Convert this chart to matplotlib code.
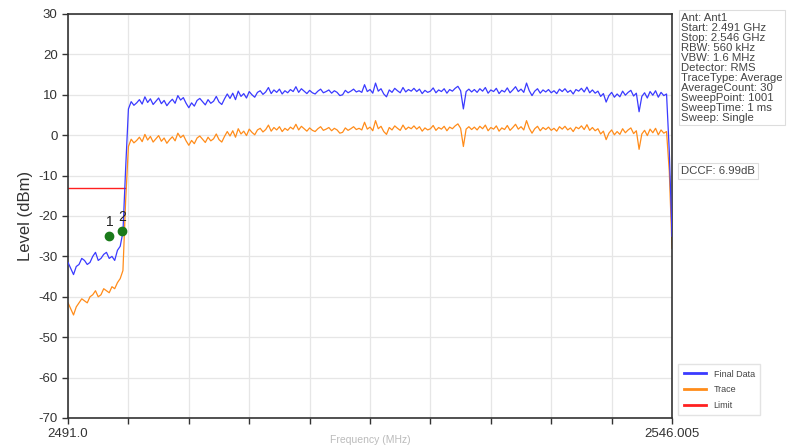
import numpy as np
import matplotlib
matplotlib.use("Agg")
import matplotlib.pyplot as plt

plt.rcParams['font.family'] = ['Liberation Sans', 'DejaVu Sans']
plt.rcParams['axes.unicode_minus'] = False

# ---------------- data ----------------
START_MHZ = 2491.0
STOP_MHZ = 2546.005

final_data = [
    -31.5, -33.0, -34.5, -32.5, -32.0, -30.5, -31.0, -32.0, -31.5, -30.0,
    -29.0, -31.0, -30.5, -29.5, -29.0, -30.5, -30.0, -31.0, -28.5, -27.5,
    -24.0, -8.0,
    6.5, 8.3, 7.4, 8.0, 8.8, 7.7, 9.5, 8.1,
    9.0, 7.6, 8.4, 9.2, 7.8, 8.6, 7.3, 8.2, 8.9, 7.9,
    9.8, 8.7, 9.3, 7.9, 6.8, 8.0, 7.2, 8.6, 9.1, 8.3,
    7.5, 8.8, 7.9, 8.4, 9.6, 8.2, 7.6, 9.0, 10.2, 9.1,
    10.4, 8.8, 10.9, 9.6, 10.3, 9.2, 10.8, 10.0, 9.4, 10.6,
    11.0, 10.1, 10.7, 11.8, 10.3, 11.2, 10.6, 11.4, 10.2, 11.0,
    10.5, 11.3, 10.8, 12.0, 10.6, 11.5, 10.9, 10.3, 11.1, 10.5,
    10.2, 10.9, 11.4, 10.5, 10.8, 11.2, 10.4, 11.0, 10.6, 9.8,
    10.0, 11.1, 10.5, 10.9, 11.4, 10.7, 11.0, 10.6, 12.5, 10.8,
    11.3, 10.4, 12.9, 10.9, 11.5, 10.2, 9.5, 11.2, 10.6, 11.6,
    11.0, 10.5, 11.8, 10.7, 11.3, 10.9, 11.6, 10.8, 11.4, 10.3,
    11.1, 10.6, 10.9, 11.7, 10.5, 11.2, 10.8, 11.5, 10.4, 11.3,
    10.9, 11.6, 12.1, 11.0, 6.5, 10.8, 11.4, 10.7, 11.3, 10.6,
    11.5, 10.9, 11.8, 10.4, 11.2, 10.8, 11.6, 10.3, 11.1, 10.7,
    11.7, 10.5, 11.2, 12.0, 10.8, 11.4, 10.6, 12.9, 11.0, 9.8,
    10.9, 11.5, 10.4, 11.2, 10.7, 11.3, 10.5, 11.0, 10.3, 11.4,
    10.8, 11.5, 10.6, 11.1, 10.2, 11.3, 10.9, 11.6, 10.7, 11.9,
    10.5, 11.2, 10.4, 10.9, 9.6, 10.3, 8.2, 9.8, 10.6, 9.4,
    10.2, 9.5, 10.9, 9.9, 10.6, 11.1, 9.7, 10.4, 5.8, 9.6,
    10.5, 9.2, 10.8, 9.9, 11.0, 9.4, 10.6, 9.8, 10.2,
    -4.0, -25.0,
]

trace = [
    -41.5, -43.0, -44.5, -42.5, -41.5, -40.5, -41.0, -41.5, -40.0, -39.5,
    -38.5, -40.0, -39.5, -38.0, -38.5, -39.0, -37.5, -38.0, -36.5, -35.5,
    -33.5, -16.0,
    -2.8, -1.0, -1.9, -1.3, -0.5, -1.6, 0.2, -1.2,
    -0.3, -1.7, -0.9, -0.1, -1.5, -0.7, -2.0, -1.1, -0.4, -1.4,
    0.5, -0.6, 0.0, -1.4, -2.5, -1.3, -2.1, -0.7, -0.2, -1.0,
    -1.8, -0.5, -1.4, -0.9, 0.3, -1.1, -1.7, -0.3, 0.9, -0.2,
    1.1, -0.5, 1.6, 0.3, 1.0, -0.1, 1.5, 0.7, 0.1, 1.3,
    1.7, 0.8, 1.4, 2.5, 1.0, 1.9, 1.3, 2.1, 0.9, 1.7,
    1.2, 2.0, 1.5, 2.7, 1.3, 2.2, 1.6, 1.0, 1.8, 1.2,
    0.9, 1.6, 2.1, 1.2, 1.5, 1.9, 1.1, 1.7, 1.3, 0.5,
    0.7, 1.8, 1.2, 1.6, 2.1, 1.4, 1.7, 1.3, 3.2, 1.5,
    2.0, 1.1, 3.6, 1.6, 2.2, 0.9, 0.2, 1.9, 1.3, 2.3,
    1.7, 1.2, 2.5, 1.4, 2.0, 1.6, 2.3, 1.5, 2.1, 1.0,
    1.8, 1.3, 1.6, 2.4, 1.2, 1.9, 1.5, 2.2, 1.1, 2.0,
    1.6, 2.3, 2.8, 1.7, -2.8, 1.5, 2.1, 1.4, 2.0, 1.3,
    2.2, 1.6, 2.5, 1.1, 1.9, 1.5, 2.3, 1.0, 1.8, 1.4,
    2.4, 1.2, 1.9, 2.7, 1.5, 2.1, 1.3, 3.6, 1.7, 0.5,
    1.6, 2.2, 1.1, 1.9, 1.4, 2.0, 1.2, 1.7, 1.0, 2.1,
    1.5, 2.2, 1.3, 1.8, 0.9, 2.0, 1.6, 2.3, 1.4, 2.6,
    1.2, 1.9, 1.1, 1.6, 0.3, 1.0, -1.1, 0.5, 1.3, 0.1,
    0.9, 0.2, 1.6, 0.6, 1.3, 1.8, 0.4, 1.1, -3.5, 0.3,
    1.2, -0.1, 1.5, 0.6, 1.7, 0.1, 1.3, 0.5, 0.9,
    -9.0, -28.0,
]

limit_freq = [2491.0, 2496.2]
limit_level = [-13.0, -13.0]

marker_freq = [2494.76, 2495.95]
marker_level = [-25.0, -23.7]
marker_names = ["1", "2"]

info_lines = [
    "Ant: Ant1",
    "Start: 2.491 GHz",
    "Stop: 2.546 GHz",
    "RBW: 560 kHz",
    "VBW: 1.6 MHz",
    "Detector: RMS",
    "TraceType: Average",
    "AverageCount: 30",
    "SweepPoint: 1001",
    "SweepTime: 1 ms",
    "Sweep: Single",
]
dccf_text = "DCCF: 6.99dB"

y_ticks = [30, 20, 10, 0, -10, -20, -30, -40, -50, -60, -70]

# ---------------- plot ----------------
freq = np.linspace(START_MHZ, STOP_MHZ, len(final_data))

fig = plt.figure(figsize=(7.91, 4.47), dpi=100)
ax = fig.add_axes([0.086, 0.0649, 0.7636, 0.9038])

ax.plot(freq, final_data, color='#3a3aff', lw=0.9, label='Final Data', zorder=3)
ax.plot(freq, trace, color='#ff8c1a', lw=0.9, label='Trace', zorder=2)
ax.plot(limit_freq, limit_level, color='#ff2020', lw=1.0, label='Limit', zorder=2)

ax.plot(marker_freq, marker_level, linestyle='none', marker='o', ms=6,
        color='#1a7a1a', zorder=5)
for f, l, n in zip(marker_freq, marker_level, marker_names):
    ax.annotate(n, (f, l), xytext=(0, 5), textcoords='offset points',
                ha='center', va='bottom', fontsize=10, color='#222222')

ax.set_xlim(START_MHZ, STOP_MHZ)
ax.set_ylim(-70, 30)
ax.set_yticks(y_ticks)
xt = np.linspace(START_MHZ, STOP_MHZ, 11)
ax.set_xticks(xt)
ax.set_xticklabels(['2491.0'] + [''] * 9 + ['2546.005'])
ax.tick_params(axis='both', labelsize=9.5, length=4, width=1, color='#333333',
               labelcolor='#333333')
ax.grid(True, color='#e6e6e6', lw=0.9)
ax.set_axisbelow(True)
for s in ax.spines.values():
    s.set_color('#333333')
    s.set_linewidth(1.2)

ax.set_ylabel('Level (dBm)', fontsize=12, color='#333333', labelpad=4)
ax.set_xlabel('Frequency (MHz)', fontsize=7.5, color='#bbbbbb', va='bottom')
ax.xaxis.set_label_coords(0.5, -0.068)

fig.text(0.861, 0.972, "\n".join(info_lines), fontsize=8.2, va='top', ha='left',
         color='#444444', linespacing=1.0,
         bbox=dict(boxstyle='square,pad=0.2', fc='white', ec='#dddddd', lw=0.8))
fig.text(0.861, 0.628, dccf_text, fontsize=8.2, va='top', ha='left',
         color='#444444',
         bbox=dict(boxstyle='square,pad=0.25', fc='white', ec='#dddddd', lw=0.8))

leg = ax.legend(loc='lower left', bbox_to_anchor=(1.003, -0.005), fontsize=6.5,
                frameon=True, edgecolor='#dddddd', fancybox=False,
                handlelength=2.5, borderpad=0.6, labelspacing=0.75)
for h in leg.get_lines():
    h.set_linewidth(2.0)
for t in leg.get_texts():
    t.set_color('#444444')

fig.savefig('out.png', dpi=100)
